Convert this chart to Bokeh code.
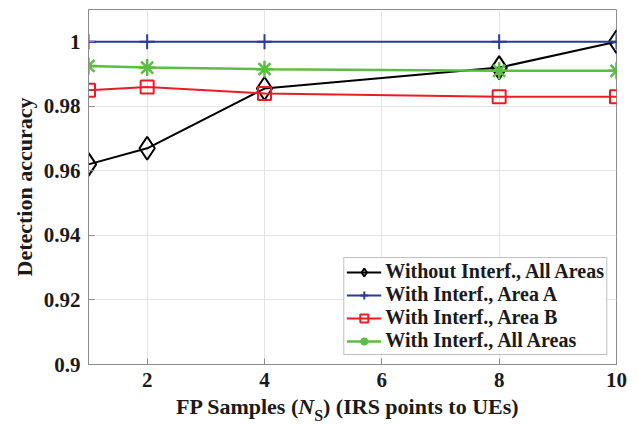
from bokeh.plotting import figure
from bokeh.models import FixedTicker, Range1d, Div
from bokeh.layouts import column
from bokeh.embed import file_html
from bokeh.resources import INLINE

# ---- data ----
fp_samples = [1, 2, 4, 8, 10]
acc_without_all = [0.962, 0.967, 0.9855, 0.992, 1.0]
acc_with_area_a = [1.0, 1.0, 1.0, 1.0, 1.0]
acc_with_area_b = [0.985, 0.986, 0.984, 0.983, 0.983]
acc_with_all = [0.9925, 0.992, 0.9915, 0.991, 0.991]

series_labels = ["Without Interf., All Areas", "With Interf., Area A",
                 "With Interf., Area B", "With Interf., All Areas"]
x_ticks = [2, 4, 6, 8, 10]
y_ticks = [0.9, 0.92, 0.94, 0.96, 0.98, 1.0]
y_tick_labels = ["0.9", "0.92", "0.94", "0.96", "0.98", "1"]
x_label_parts = ["FP Samples (", "N", "S", ") (IRS points to UEs)"]
y_label = "Detection accuracy"

FONT = "Liberation Serif"
AX = "#8c8c8c"
TXT = "#1a1a1a"

p = figure(width=631, height=394, x_range=Range1d(1, 10), y_range=Range1d(0.9, 1.01),
           output_backend="svg", toolbar_location=None,
           min_border_left=88, min_border_right=15, min_border_top=9, min_border_bottom=30)

p.outline_line_color = AX
p.background_fill_color = "white"

# series
p.line(fp_samples, acc_without_all, color="black", line_width=2, legend_label=series_labels[0])
p.scatter(fp_samples, acc_without_all, marker="diamond", size=23, fill_color=None,
          line_color="black", line_width=2, legend_label=series_labels[0])

blue = "#2b3b98"
p.line(fp_samples, acc_with_area_a, color=blue, line_width=2, legend_label=series_labels[1])
p.scatter(fp_samples, acc_with_area_a, marker="cross", size=15, line_color=blue,
          line_width=2, legend_label=series_labels[1])

red = "#ec1c24"
p.line(fp_samples, acc_with_area_b, color=red, line_width=2, legend_label=series_labels[2])
p.scatter(fp_samples, acc_with_area_b, marker="square", size=13, fill_color=None,
          line_color=red, line_width=2, legend_label=series_labels[2])

green = "#5cbc44"
p.line(fp_samples, acc_with_all, color=green, line_width=2.5, legend_label=series_labels[3])
p.scatter(fp_samples, acc_with_all, marker="asterisk", size=17, line_color=green,
          line_width=2.5, legend_label=series_labels[3])

# axes
p.xaxis.ticker = FixedTicker(ticks=x_ticks)
p.yaxis.ticker = FixedTicker(ticks=y_ticks)
p.yaxis.major_label_overrides = {t: l for t, l in zip(y_ticks, y_tick_labels)}
for ax in (p.xaxis, p.yaxis):
    ax.axis_line_color = AX
    ax.major_tick_line_color = AX
    ax.major_tick_in = 6
    ax.major_tick_out = 0
    ax.minor_tick_line_color = None
    ax.major_label_text_font = FONT
    ax.major_label_text_font_style = "bold"
    ax.major_label_text_font_size = "21px"
    ax.major_label_text_color = TXT
p.xaxis.major_label_standoff = 8
p.yaxis.major_label_standoff = 8

p.yaxis.axis_label = y_label
p.yaxis.axis_label_text_font = FONT
p.yaxis.axis_label_text_font_style = "bold"
p.yaxis.axis_label_text_font_size = "22px"
p.yaxis.axis_label_text_color = TXT
p.yaxis.axis_label_standoff = 4

# grid
p.xgrid.ticker = FixedTicker(ticks=x_ticks)
p.ygrid.ticker = FixedTicker(ticks=y_ticks)
p.xgrid.grid_line_color = "#e4e4e4"
p.ygrid.grid_line_color = "#e4e4e4"

# legend
lg = p.legend[0]
lg.location = "bottom_right"
lg.margin = 9
lg.padding = 2
lg.spacing = 0
lg.label_height = 20
lg.glyph_height = 20
lg.glyph_width = 35
lg.label_standoff = 4
lg.label_text_font = FONT
lg.label_text_font_style = "bold"
lg.label_text_font_size = "20px"
lg.label_text_color = TXT
lg.border_line_color = "#7f7f7f"
lg.border_line_width = 1
lg.background_fill_color = "white"

# x-axis label with italic N and subscript S
xlabel_html = (
    f'<div style="padding-left:176px; font-family:\'{FONT}\'; '
    f'font-weight:bold; font-size:22px; color:{TXT}; white-space:nowrap; line-height:26px;">'
    f'{x_label_parts[0]}<i>{x_label_parts[1]}</i>'
    f'<span style="font-size:16px; position:relative; top:7px;">{x_label_parts[2]}</span>'
    f'{x_label_parts[3]}</div>'
)
xlabel = Div(text=xlabel_html, width=631, height=30, margin=(0, 0, 0, 0))

layout = column(p, xlabel, spacing=0)

open("out.html", "w").write(file_html(layout, INLINE))
